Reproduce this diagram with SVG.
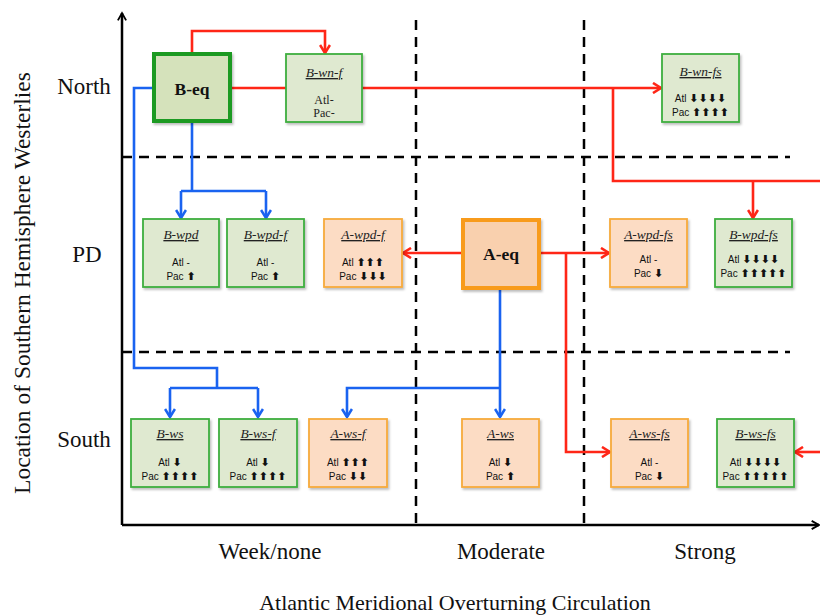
<svg xmlns="http://www.w3.org/2000/svg" width="820" height="615" viewBox="0 0 820 615">
<style>
.ax{stroke:#000;stroke-width:2.5;fill:none}
.dash{stroke:#000;stroke-width:2.5;fill:none;stroke-dasharray:10 7}
.red{stroke:#ff2617;stroke-width:2.6;fill:none}
.blue{stroke:#1a63f0;stroke-width:2.6;fill:none}
.gbox{fill:#dfe9d0;stroke:#3fae3f;stroke-width:1.8}
.obox{fill:#fcdcc4;stroke:#f7aa3c;stroke-width:1.8}
.lab{font-family:"Liberation Serif",serif;font-size:23px;fill:#111}
.ttl{font-family:"Liberation Serif",serif;font-size:13.5px;font-style:italic;text-decoration:underline;fill:#222;text-anchor:middle}
.sv{font-family:"Liberation Serif",serif;font-size:12px;fill:#222;text-anchor:middle}
.ss{font-family:"Liberation Sans",sans-serif;font-size:10px;fill:#111;text-anchor:middle}
.ar{font-family:"DejaVu Sans",sans-serif;font-size:11px;font-weight:bold}
.eq{font-family:"Liberation Serif",serif;font-size:17.5px;font-weight:bold;fill:#111;text-anchor:middle}
</style>
<defs>
<filter id="sh" x="-10%" y="-10%" width="130%" height="130%"><feDropShadow dx="1.5" dy="2" stdDeviation="1.2" flood-color="#000" flood-opacity="0.25"/></filter>
<marker id="mr" viewBox="0 0 12 12" refX="10" refY="6" markerWidth="12" markerHeight="12" markerUnits="userSpaceOnUse" orient="auto"><path d="M2,1 L10,6 L2,11" fill="none" stroke="#ff2617" stroke-width="2.6"/></marker>
<marker id="mb" viewBox="0 0 12 12" refX="10" refY="6" markerWidth="12" markerHeight="12" markerUnits="userSpaceOnUse" orient="auto"><path d="M2,1 L10,6 L2,11" fill="none" stroke="#1a63f0" stroke-width="2.6"/></marker>
<marker id="mk" viewBox="0 0 12 12" refX="10" refY="6" markerWidth="11" markerHeight="11" markerUnits="userSpaceOnUse" orient="auto"><path d="M2,1.5 L10,6 L2,10.5" fill="none" stroke="#000" stroke-width="2"/></marker>
</defs>

<g id="axes">
<path class="ax" d="M122,525 V13" marker-end="url(#mk)"/>
<path class="ax" d="M122,525 H819" marker-end="url(#mk)"/>
<path class="dash" d="M416,20 V525 M584,20 V525"/>
<path class="dash" d="M122,157 H790 M122,352 H790"/>
</g>

<g id="labels">
<text class="lab" x="84" y="94" text-anchor="middle">North</text>
<text class="lab" x="87" y="262" text-anchor="middle">PD</text>
<text class="lab" x="84" y="447" text-anchor="middle">South</text>
<text class="lab" x="270" y="559" text-anchor="middle">Week/none</text>
<text class="lab" x="501" y="559" text-anchor="middle">Moderate</text>
<text class="lab" x="705" y="559" text-anchor="middle">Strong</text>
<text class="lab" x="455" y="610" text-anchor="middle" style="font-size:22px">Atlantic Meridional Overturning Circulation</text>
<text class="lab" transform="translate(30,283) rotate(-90)" text-anchor="middle" style="font-size:23.5px">Location of Southern Hemisphere Westerlies</text>
</g>

<g id="connectors">
<path class="red" d="M192,53 V31 H325 V53" marker-end="url(#mr)"/>
<path class="red" d="M231,88 H286"/>
<path class="red" d="M362,88 H661" marker-end="url(#mr)"/>
<path class="red" d="M613,88 V181 H820"/>
<path class="red" d="M753,181 V218" marker-end="url(#mr)"/>
<path class="red" d="M462,253 H403" marker-end="url(#mr)"/>
<path class="red" d="M540,253 H609" marker-end="url(#mr)"/>
<path class="red" d="M566,253 V452 H610" marker-end="url(#mr)"/>
<path class="red" d="M820,452 H795" marker-end="url(#mr)"/>
<path class="blue" d="M153,88 H134 V368 H217 V388"/>
<path class="blue" d="M170,388 H258"/>
<path class="blue" d="M170,388 V417" marker-end="url(#mb)"/>
<path class="blue" d="M258,388 V417" marker-end="url(#mb)"/>
<path class="blue" d="M192,123 V191"/>
<path class="blue" d="M181,191 H266"/>
<path class="blue" d="M181,191 V218" marker-end="url(#mb)"/>
<path class="blue" d="M266,191 V218" marker-end="url(#mb)"/>
<path class="blue" d="M500,289 V417" marker-end="url(#mb)"/>
<path class="blue" d="M500,388 H347 V417" marker-end="url(#mb)"/>
</g>

<g id="B-eq">
<rect x="154" y="54" width="76" height="67" fill="#d5e2bb" stroke="#1e9a22" stroke-width="4" filter="url(#sh)"/>
<text class="eq" x="192" y="95">B-eq</text>
</g>
<g id="B-wn-f">
<rect class="gbox" x="286" y="54" width="76" height="68" filter="url(#sh)"/>
<text class="ttl" x="324" y="77">B-wn-f</text>
<text class="sv" x="324" y="104">Atl-</text>
<text class="sv" x="324" y="117">Pac-</text>
</g>
<g id="B-wn-fs">
<rect class="gbox" x="662" y="54" width="77" height="68" filter="url(#sh)"/>
<text class="ttl" x="700.5" y="76">B-wn-fs</text>
<text class="ss" x="700.5" y="102">Atl <tspan class="ar">⬇⬇⬇⬇</tspan></text>
<text class="ss" x="700.5" y="116">Pac <tspan class="ar">⬆⬆⬆⬆</tspan></text>
</g>

<g id="B-wpd">
<rect class="gbox" x="143" y="219" width="76" height="68" filter="url(#sh)"/>
<text class="ttl" x="181" y="239">B-wpd</text>
<text class="ss" x="181" y="266">Atl -</text>
<text class="ss" x="181" y="280">Pac <tspan class="ar">⬆</tspan></text>
</g>
<g id="B-wpd-f">
<rect class="gbox" x="227" y="219" width="77" height="68" filter="url(#sh)"/>
<text class="ttl" x="265.5" y="239">B-wpd-f</text>
<text class="ss" x="265.5" y="266">Atl -</text>
<text class="ss" x="265.5" y="280">Pac <tspan class="ar">⬆</tspan></text>
</g>
<g id="A-wpd-f">
<rect class="obox" x="324" y="219" width="78" height="68" filter="url(#sh)"/>
<text class="ttl" x="363" y="239">A-wpd-f</text>
<text class="ss" x="363" y="266">Atl <tspan class="ar">⬆⬆⬆</tspan></text>
<text class="ss" x="363" y="280">Pac <tspan class="ar">⬇⬇⬇</tspan></text>
</g>
<g id="A-eq">
<rect x="463" y="220" width="76" height="68" fill="#f9d0ae" stroke="#f89b1e" stroke-width="4" filter="url(#sh)"/>
<text class="eq" x="501" y="260">A-eq</text>
</g>
<g id="A-wpd-fs">
<rect class="obox" x="610" y="219" width="77" height="68" filter="url(#sh)"/>
<text class="ttl" x="648.5" y="239">A-wpd-fs</text>
<text class="ss" x="648.5" y="263">Atl -</text>
<text class="ss" x="648.5" y="277">Pac <tspan class="ar">⬇</tspan></text>
</g>
<g id="B-wpd-fs">
<rect class="gbox" x="715" y="219" width="77" height="68" filter="url(#sh)"/>
<text class="ttl" x="753.5" y="239">B-wpd-fs</text>
<text class="ss" x="753.5" y="263">Atl <tspan class="ar">⬇⬇⬇⬇</tspan></text>
<text class="ss" x="753.5" y="277">Pac <tspan class="ar">⬆⬆⬆⬆⬆</tspan></text>
</g>

<g id="B-ws">
<rect class="gbox" x="131" y="419" width="78" height="68" filter="url(#sh)"/>
<text class="ttl" x="170" y="438">B-ws</text>
<text class="ss" x="170" y="466">Atl <tspan class="ar">⬇</tspan></text>
<text class="ss" x="170" y="480">Pac <tspan class="ar">⬆⬆⬆⬆</tspan></text>
</g>
<g id="B-ws-f">
<rect class="gbox" x="219" y="419" width="78" height="68" filter="url(#sh)"/>
<text class="ttl" x="258" y="438">B-ws-f</text>
<text class="ss" x="258" y="466">Atl <tspan class="ar">⬇</tspan></text>
<text class="ss" x="258" y="480">Pac <tspan class="ar">⬆⬆⬆⬆</tspan></text>
</g>
<g id="A-ws-f">
<rect class="obox" x="309" y="419" width="78" height="68" filter="url(#sh)"/>
<text class="ttl" x="348" y="438">A-ws-f</text>
<text class="ss" x="348" y="466">Atl <tspan class="ar">⬆⬆⬆</tspan></text>
<text class="ss" x="348" y="480">Pac <tspan class="ar">⬇⬇</tspan></text>
</g>
<g id="A-ws">
<rect class="obox" x="462" y="419" width="77" height="68" filter="url(#sh)"/>
<text class="ttl" x="500.5" y="438">A-ws</text>
<text class="ss" x="500.5" y="466">Atl <tspan class="ar">⬇</tspan></text>
<text class="ss" x="500.5" y="480">Pac <tspan class="ar">⬆</tspan></text>
</g>
<g id="A-ws-fs">
<rect class="obox" x="611" y="419" width="77" height="68" filter="url(#sh)"/>
<text class="ttl" x="649.5" y="438">A-ws-fs</text>
<text class="ss" x="649.5" y="466">Atl -</text>
<text class="ss" x="649.5" y="480">Pac <tspan class="ar">⬇</tspan></text>
</g>
<g id="B-ws-fs">
<rect class="gbox" x="717" y="419" width="77" height="68" filter="url(#sh)"/>
<text class="ttl" x="755.5" y="438">B-ws-fs</text>
<text class="ss" x="755.5" y="466">Atl <tspan class="ar">⬇⬇⬇⬇</tspan></text>
<text class="ss" x="755.5" y="480">Pac <tspan class="ar">⬆⬆⬆⬆⬆</tspan></text>
</g>
</svg>
